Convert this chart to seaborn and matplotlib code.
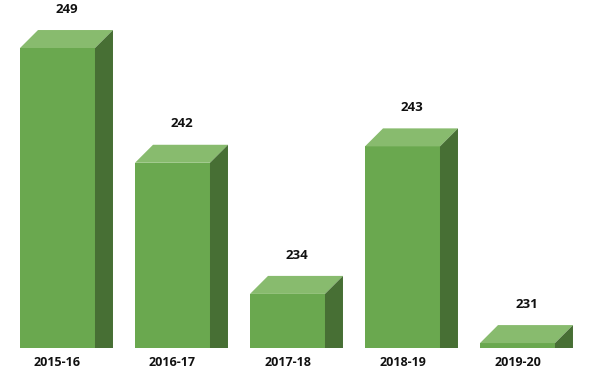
import numpy as np
import matplotlib
matplotlib.use("Agg")
import matplotlib.pyplot as plt
from matplotlib.patches import Polygon
import pandas as pd
import seaborn as sns

# Data
years = ['2015-16', '2016-17', '2017-18', '2018-19', '2019-20']
values = [249, 242, 234, 243, 231]

# Colours of the three faces
front_col = '#6aa84f'
top_col = '#88bb6e'
side_col = '#476f34'

sns.set_theme(style="white")
plt.rcParams['font.family'] = ['Open Sans', 'DejaVu Sans']

df = pd.DataFrame({'year': years, 'value': values})

fig = plt.figure(figsize=(5.95, 3.79), dpi=100)
ax = fig.add_axes([0, 31/379, 1, 348/379])

sns.barplot(data=df, x='year', y='value', color=front_col, width=0.652,
            saturation=1, ax=ax, zorder=2, edgecolor='none', linewidth=0)

ymin, ymax = 230.7, 251.93
ax.set_ylim(ymin, ymax)
ax.set_xlim(-0.5, 4.674)

# depth of the fake 3D bars, in data units (~18 px each way)
dx = 18/115
dy = 18/16.39

for p, v in zip(ax.patches, values):
    x0 = p.get_x()
    x1 = x0 + p.get_width()
    top = Polygon([(x0, v), (x1, v), (x1+dx, v+dy), (x0+dx, v+dy)],
                  closed=True, facecolor=top_col, edgecolor='none', zorder=2)
    side = Polygon([(x1, ymin), (x1+dx, ymin), (x1+dx, v+dy), (x1, v)],
                   closed=True, facecolor=side_col, edgecolor='none', zorder=2)
    ax.add_patch(top)
    ax.add_patch(side)
    ax.annotate(str(v), xy=((x0+x1+dx)/2, v), xytext=(0, 28),
                textcoords='offset points', ha='center', va='center',
                fontsize=9.5, fontweight='bold', color='#111111')

for s in ax.spines.values():
    s.set_visible(False)
ax.set_yticks([])
ax.set_xlabel('')
ax.set_ylabel('')
ax.tick_params(axis='x', length=0, pad=6)
for t in ax.get_xticklabels():
    t.set_fontweight('bold')
    t.set_fontsize(9)
    t.set_color('#111111')

fig.savefig('out.png', dpi=100, facecolor='white')
